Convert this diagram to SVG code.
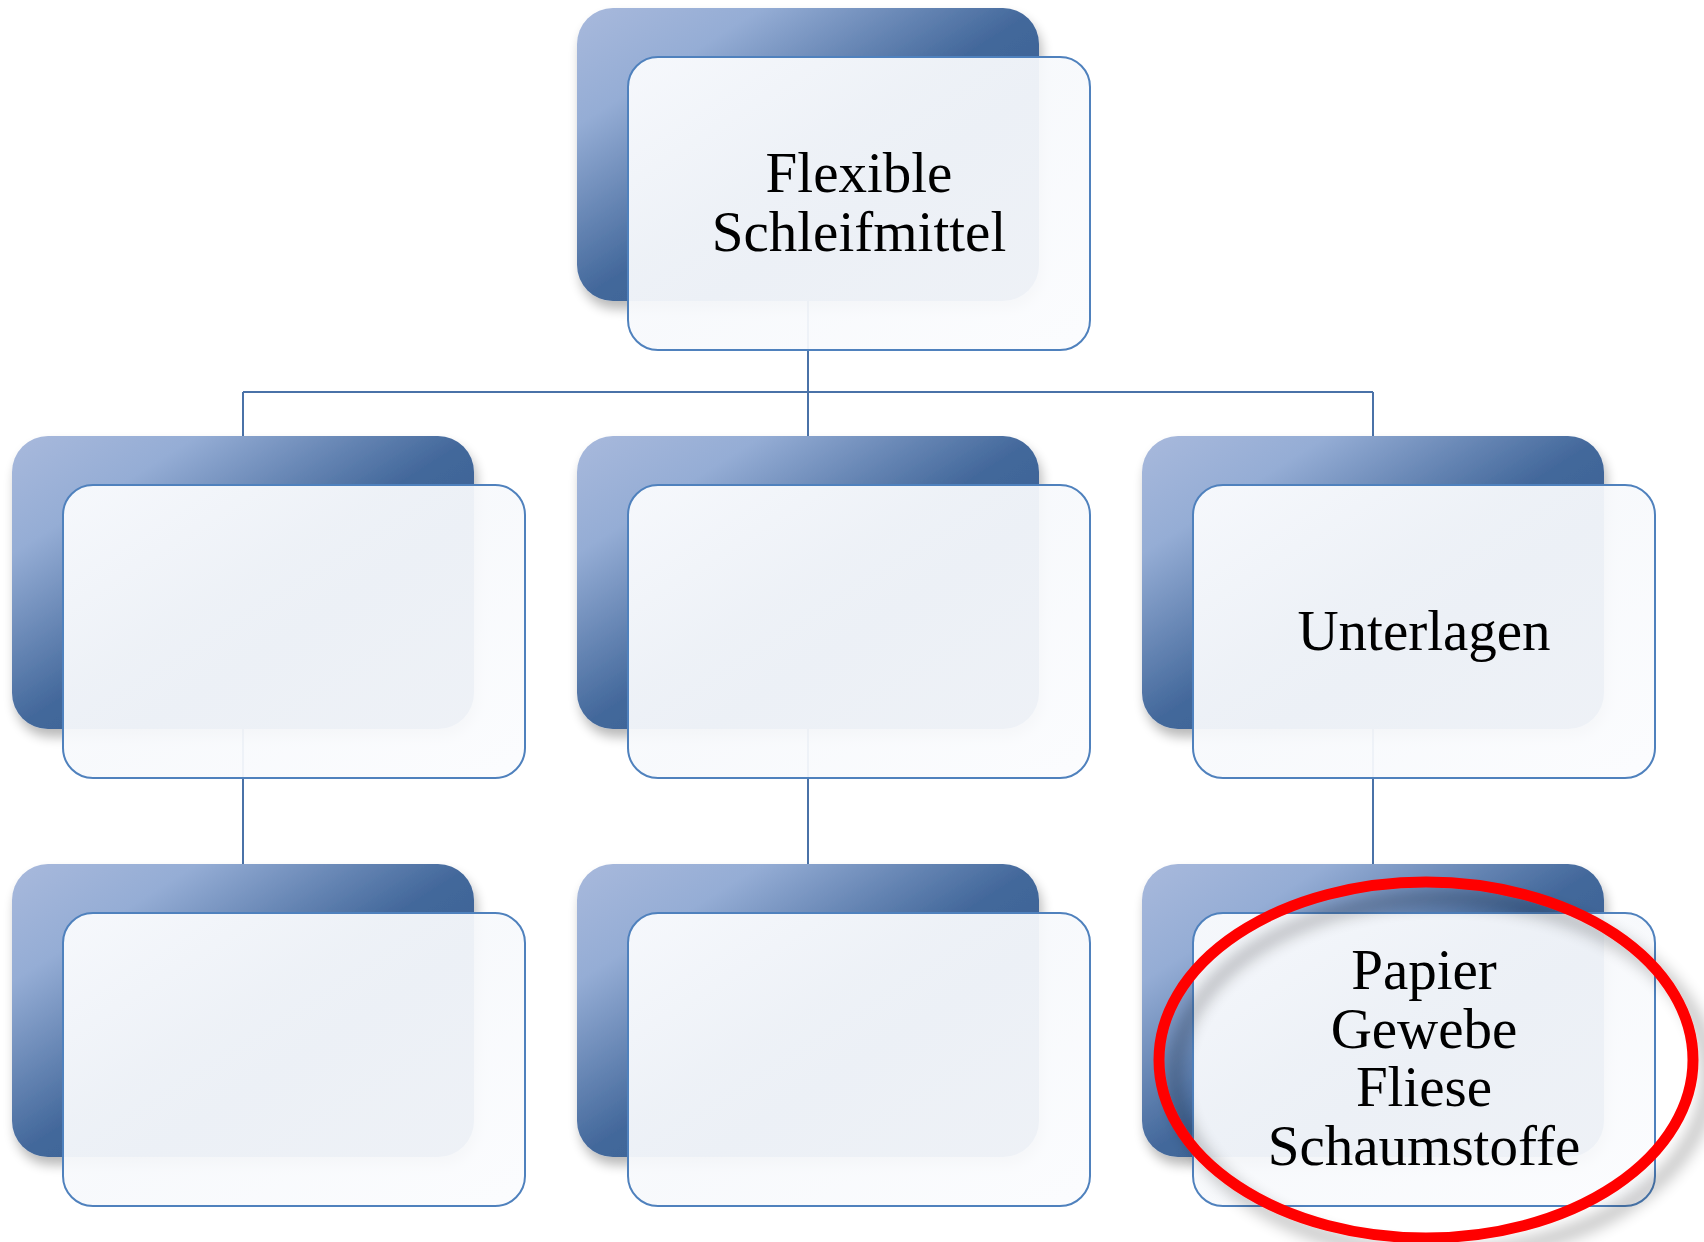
<svg xmlns="http://www.w3.org/2000/svg" width="1704" height="1242" viewBox="0 0 1704 1242">
<defs>
<linearGradient id="backGrad" x1="0" y1="0" x2="1" y2="1">
<stop offset="0" stop-color="#a8b9dc"/>
<stop offset="0.2" stop-color="#95add5"/>
<stop offset="0.5" stop-color="#43689b"/>
<stop offset="1" stop-color="#2f5488"/>
</linearGradient>
<linearGradient id="frontGrad" x1="0" y1="0" x2="1" y2="1">
<stop offset="0" stop-color="#fbfcfe"/>
<stop offset="0.5" stop-color="#f7f9fc"/>
<stop offset="1" stop-color="#fbfcfe"/>
</linearGradient>
<filter id="shadow" x="-10%" y="-10%" width="130%" height="135%">
<feGaussianBlur in="SourceAlpha" stdDeviation="6"/>
<feOffset dx="3" dy="8" result="b"/>
<feComponentTransfer in="b" result="s"><feFuncA type="linear" slope="0.28"/></feComponentTransfer>
<feMerge><feMergeNode in="s"/><feMergeNode in="SourceGraphic"/></feMerge>
</filter>
<filter id="ellShadow" x="-15%" y="-15%" width="140%" height="140%">
<feGaussianBlur in="SourceAlpha" stdDeviation="8"/>
<feOffset dx="16" dy="16" result="b"/>
<feComponentTransfer in="b" result="s"><feFuncA type="linear" slope="0.3"/></feComponentTransfer>
<feMerge><feMergeNode in="s"/><feMergeNode in="SourceGraphic"/></feMerge>
</filter>
</defs>
<style>
.back{fill:url(#backGrad);filter:url(#shadow)}
.front{fill:url(#frontGrad);fill-opacity:0.94;stroke:#4f81bd;stroke-width:2}
.conn{fill:none;stroke:#4a72a8;stroke-width:2}
.lbl{font-family:"Liberation Serif","DejaVu Serif",serif;font-size:57px;fill:#000;text-anchor:middle}
</style>
<rect width="1704" height="1242" fill="#ffffff"/>
<g id="connectors">
<path class="conn" d="M808 301 V392 M243 392 H1373 M243 392 V436 M808 392 V436 M1373 392 V436"/>
<path class="conn" d="M243 728 V864 M808 728 V864 M1373 728 V864"/>
</g>
<g id="node-root">
<rect class="back" x="577" y="8" width="462" height="293" rx="36"/>
<rect class="front" x="628" y="57" width="462" height="293" rx="30"/>
<text class="lbl" x="859" y="192">Flexible</text>
<text class="lbl" x="859" y="251">Schleifmittel</text>
</g>
<g id="node-r2c1">
<rect class="back" x="12" y="436" width="462" height="293" rx="36"/>
<rect class="front" x="63" y="485" width="462" height="293" rx="30"/>
</g>
<g id="node-r2c2">
<rect class="back" x="577" y="436" width="462" height="293" rx="36"/>
<rect class="front" x="628" y="485" width="462" height="293" rx="30"/>
</g>
<g id="node-r2c3">
<rect class="back" x="1142" y="436" width="462" height="293" rx="36"/>
<rect class="front" x="1193" y="485" width="462" height="293" rx="30"/>
<text class="lbl" x="1424" y="650">Unterlagen</text>
</g>
<g id="node-r3c1">
<rect class="back" x="12" y="864" width="462" height="293" rx="36"/>
<rect class="front" x="63" y="913" width="462" height="293" rx="30"/>
</g>
<g id="node-r3c2">
<rect class="back" x="577" y="864" width="462" height="293" rx="36"/>
<rect class="front" x="628" y="913" width="462" height="293" rx="30"/>
</g>
<g id="node-r3c3">
<rect class="back" x="1142" y="864" width="462" height="293" rx="36"/>
<rect class="front" x="1193" y="913" width="462" height="293" rx="30"/>
<text class="lbl" x="1424" y="989">Papier</text>
<text class="lbl" x="1424" y="1048">Gewebe</text>
<text class="lbl" x="1424" y="1106">Fliese</text>
<text class="lbl" x="1424" y="1165">Schaumstoffe</text>
</g>
<g id="highlight">
<ellipse cx="1426" cy="1060" rx="267" ry="178" fill="none" stroke="#ff0000" stroke-width="11" filter="url(#ellShadow)"/>
</g>
</svg>
